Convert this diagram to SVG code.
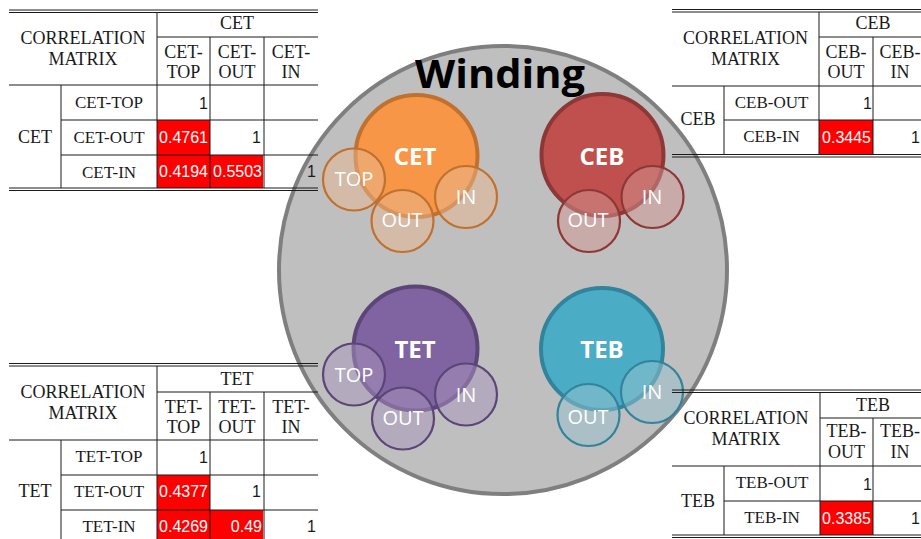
<svg xmlns="http://www.w3.org/2000/svg" width="921" height="539" viewBox="0 0 921 539">
<style>
.ln{stroke:#1a1a1a;stroke-width:1;fill:none}
.t{font-family:"Liberation Serif","DejaVu Serif",serif;font-size:18px;fill:#1a1a1a;text-anchor:middle}
.r{font-size:17px}
.v{font-family:"Liberation Sans","DejaVu Sans",sans-serif;font-size:16px;fill:#1a1a1a;text-anchor:end}
.vw{font-family:"Liberation Sans","DejaVu Sans",sans-serif;font-size:16px;fill:#ffffff;text-anchor:end}
.red{fill:#ff0000}
.big{stroke-width:4}
.sm{stroke-width:2.2}
.lbl{font-family:"Open Sans","Liberation Sans",sans-serif;font-size:24px;font-weight:bold;fill:#fff;text-anchor:middle}
.sl{font-family:"Open Sans","Liberation Sans",sans-serif;font-size:20px;fill:#fff;text-anchor:middle}
</style>
<rect width="921" height="539" fill="#fff"/>
<g id="winding">
<circle cx="503" cy="270" r="224" fill="#bfbfbf" stroke="#7f7f7f" stroke-width="4"/>
<text x="500" y="88" font-family="'Open Sans','Liberation Sans',sans-serif" font-size="40" font-weight="bold" fill="#000" text-anchor="middle" textLength="170" lengthAdjust="spacingAndGlyphs">Winding</text>
</g>
<g id="node-CET">
<circle cx="416.5" cy="156" r="61" fill="#f79646" stroke="#c0712f" class="big"/>
<circle cx="354" cy="179.5" r="31" fill="#e9b78f" fill-opacity="0.5" stroke="#c0712f" class="sm"/>
<circle cx="402.5" cy="221" r="31" fill="#e9b78f" fill-opacity="0.5" stroke="#c0712f" class="sm"/>
<circle cx="466" cy="197" r="31" fill="#e9b78f" fill-opacity="0.5" stroke="#c0712f" class="sm"/>
<text x="415" y="165" class="lbl">CET</text>
<text x="354" y="186" class="sl">TOP</text>
<text x="402" y="227" class="sl">OUT</text>
<text x="466" y="204" class="sl">IN</text>
</g>
<g id="node-CEB">
<circle cx="602.5" cy="155" r="61" fill="#c0504d" stroke="#8c3836" class="big"/>
<circle cx="589" cy="221" r="31" fill="#d19593" fill-opacity="0.5" stroke="#8c3836" class="sm"/>
<circle cx="652.5" cy="197" r="31" fill="#d19593" fill-opacity="0.5" stroke="#8c3836" class="sm"/>
<text x="602" y="165" class="lbl">CEB</text>
<text x="588" y="227" class="sl">OUT</text>
<text x="652" y="204" class="sl">IN</text>
</g>
<g id="node-TET">
<circle cx="415.5" cy="348.5" r="62" fill="#8064a2" stroke="#5c4577" class="big"/>
<circle cx="354" cy="374.5" r="31" fill="#a995bd" fill-opacity="0.5" stroke="#5c4577" class="sm"/>
<circle cx="403" cy="418.5" r="31" fill="#a995bd" fill-opacity="0.5" stroke="#5c4577" class="sm"/>
<circle cx="466" cy="394.5" r="31" fill="#a995bd" fill-opacity="0.5" stroke="#5c4577" class="sm"/>
<text x="415" y="358" class="lbl">TET</text>
<text x="354" y="382" class="sl">TOP</text>
<text x="403" y="425" class="sl">OUT</text>
<text x="466" y="402" class="sl">IN</text>
</g>
<g id="node-TEB">
<circle cx="602" cy="349" r="61" fill="#4bacc6" stroke="#31849b" class="big"/>
<circle cx="588.5" cy="415" r="31" fill="#95c1cd" fill-opacity="0.5" stroke="#31849b" class="sm"/>
<circle cx="652" cy="392" r="31" fill="#95c1cd" fill-opacity="0.5" stroke="#31849b" class="sm"/>
<text x="602" y="358" class="lbl">TEB</text>
<text x="588" y="424" class="sl">OUT</text>
<text x="652" y="399" class="sl">IN</text>
</g>
<g id="connectors"/>
<g id="table-CET">
<rect x="157" y="120" width="53" height="35" class="red"/>
<rect x="157" y="155" width="53" height="33" class="red"/>
<rect x="210" y="155" width="53" height="33" class="red"/>
<path class="ln" d="M9 10H318M9 12.5H318M157 37H318M9 85H318M61 120H318M61 155H318M9 188H318M9 190.5H318M157 12.5V188M210 37V188M264 37V188M61 85V188"/>
<text x="83" y="44" class="t">CORRELATION</text>
<text x="83" y="65" class="t">MATRIX</text>
<text x="237" y="29" class="t">CET</text>
<text x="183.5" y="58" class="t">CET-</text><text x="183.5" y="78" class="t">TOP</text>
<text x="237" y="58" class="t">CET-</text><text x="237" y="78" class="t">OUT</text>
<text x="291" y="58" class="t">CET-</text><text x="291" y="78" class="t">IN</text>
<text x="35" y="143" class="t">CET</text>
<text x="109" y="108" class="t r">CET-TOP</text>
<text x="109" y="143" class="t r">CET-OUT</text>
<text x="109" y="178" class="t r">CET-IN</text>
<text x="208" y="109" class="v">1</text>
<text x="208" y="143" class="vw">0.4761</text>
<text x="261" y="143" class="v">1</text>
<text x="208" y="177" class="vw">0.4194</text>
<text x="262" y="177" class="vw">0.5503</text>
<text x="316" y="177" class="v">1</text>
</g>
<g id="table-CEB">
<rect x="819" y="120" width="54" height="34.5" class="red"/>
<path class="ln" d="M672 9.5H921M672 12H921M819 37H921M672 86H921M724 120H921M672 154.5H921M672 157H921M819 12V155M873 37V155M724 86V155"/>
<text x="745.5" y="44" class="t">CORRELATION</text>
<text x="745.5" y="65" class="t">MATRIX</text>
<text x="873" y="29" class="t">CEB</text>
<text x="846" y="58" class="t">CEB-</text><text x="846" y="78" class="t">OUT</text>
<text x="900" y="58" class="t">CEB-</text><text x="900" y="78" class="t">IN</text>
<text x="698" y="125" class="t">CEB</text>
<text x="771.5" y="108" class="t r">CEB-OUT</text>
<text x="771.5" y="142" class="t r">CEB-IN</text>
<text x="872" y="109" class="v">1</text>
<text x="871" y="143" class="vw">0.3445</text>
<text x="920" y="143" class="v">1</text>
</g>
<g id="table-TET">
<rect x="157" y="475" width="53" height="35" class="red"/>
<rect x="157" y="510" width="53" height="29" class="red"/>
<rect x="210" y="510" width="53" height="29" class="red"/>
<path class="ln" d="M9 363.5H318M9 366H318M157 392H318M9 440H318M61 475H318M61 510H318M157 366V539M210 392V539M264 392V539M61 440V539"/>
<text x="83" y="398" class="t">CORRELATION</text>
<text x="83" y="419" class="t">MATRIX</text>
<text x="237" y="385" class="t">TET</text>
<text x="183.5" y="413" class="t">TET-</text><text x="183.5" y="433" class="t">TOP</text>
<text x="237" y="413" class="t">TET-</text><text x="237" y="433" class="t">OUT</text>
<text x="291" y="413" class="t">TET-</text><text x="291" y="433" class="t">IN</text>
<text x="35" y="497" class="t">TET</text>
<text x="109" y="462" class="t r">TET-TOP</text>
<text x="109" y="497" class="t r">TET-OUT</text>
<text x="109" y="532" class="t r">TET-IN</text>
<text x="208" y="463" class="v">1</text>
<text x="208" y="497" class="vw">0.4377</text>
<text x="261" y="497" class="v">1</text>
<text x="208" y="532" class="vw">0.4269</text>
<text x="262" y="532" class="vw">0.49</text>
<text x="316" y="532" class="v">1</text>
</g>
<g id="table-TEB">
<rect x="820" y="501" width="53" height="34" class="red"/>
<path class="ln" d="M672 390H921M672 392.5H921M820 418H921M672 466H921M724 501H921M672 535H921M672 537.5H921M820 392.5V535M873 418V535M724 466V535"/>
<text x="746" y="424" class="t">CORRELATION</text>
<text x="746" y="445" class="t">MATRIX</text>
<text x="873" y="411" class="t">TEB</text>
<text x="846.5" y="437" class="t">TEB-</text><text x="846.5" y="458" class="t">OUT</text>
<text x="900" y="437" class="t">TEB-</text><text x="900" y="458" class="t">IN</text>
<text x="698" y="507" class="t">TEB</text>
<text x="772" y="488" class="t r">TEB-OUT</text>
<text x="772" y="523" class="t r">TEB-IN</text>
<text x="872" y="490" class="v">1</text>
<text x="871" y="524" class="vw">0.3385</text>
<text x="920" y="524" class="v">1</text>
</g>
</svg>
